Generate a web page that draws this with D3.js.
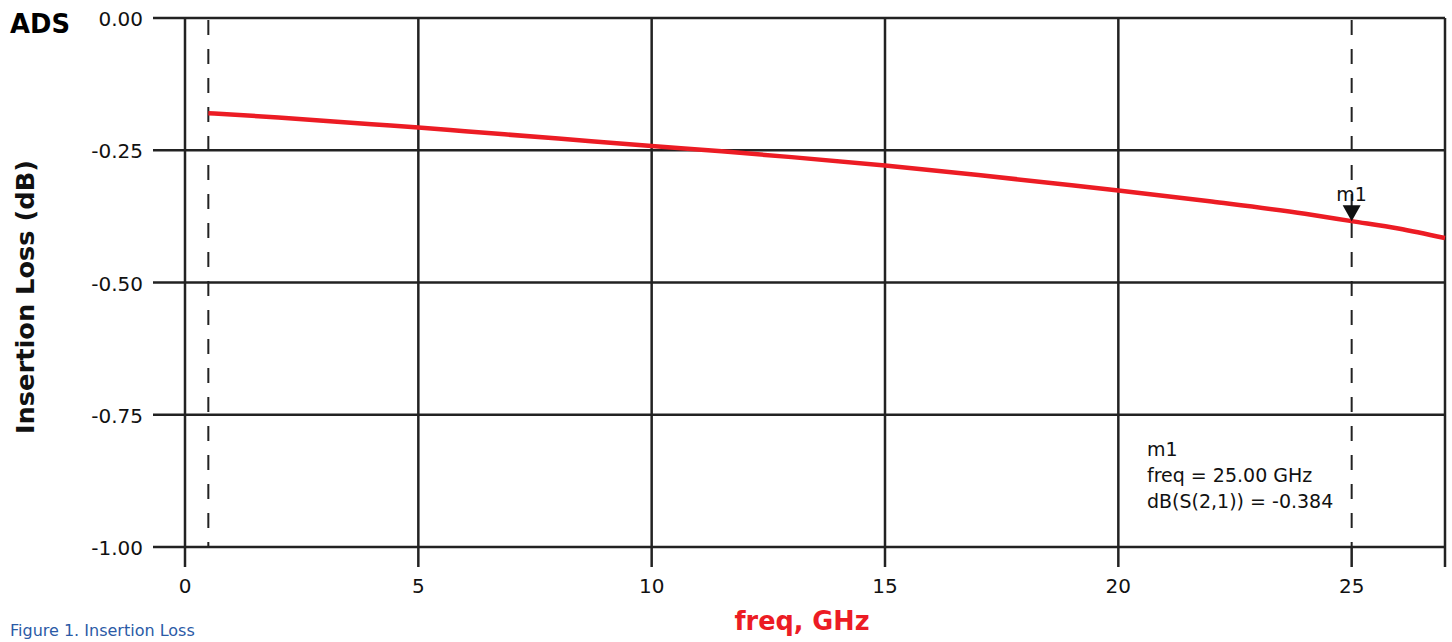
<!DOCTYPE html>
<html>
<head>
<meta charset="utf-8">
<script src="https://cdn.jsdelivr.net/npm/d3@7"></script>
<style>
  body { margin: 0; background: #fff; }
  svg { display: block; font-family: "DejaVu Sans", "Open Sans", sans-serif; }
</style>
</head>
<body>
<svg width="1452" height="642"></svg>
<script>
// insertion loss S21 curve
const freqGHz = [0.5, 2, 4, 5, 6, 8, 10, 11.5, 13, 15, 17, 19, 20, 22, 24, 25, 26, 27];
const lossDb  = [-0.180, -0.188, -0.201, -0.207, -0.214, -0.228, -0.242, -0.252, -0.263, -0.279, -0.297, -0.316, -0.326, -0.347, -0.370, -0.384, -0.398, -0.416];
const xTicks = [0, 5, 10, 15, 20, 25];
const yTicks = [0, -0.25, -0.5, -0.75, -1];
const markerFreqs = [0.5, 25];
const markerName = "m1";
const markerValue = -0.384;
const readout = ["m1", "freq = 25.00 GHz", "dB(S(2,1)) = -0.384"];

const svg = d3.select("svg");
const pLeft = 185, pRight = 1445, pTop = 18, pBottom = 547;
const ink = "#222";

const x = d3.scaleLinear([0, 27], [pLeft, pRight]);
const y = d3.scaleLinear([-1, 0], [pBottom, pTop]);

// horizontal grid lines (run out past the left edge as ticks)
svg.append("g")
  .selectAll("line")
  .data(yTicks)
  .join("line")
  .attr("x1", pLeft - 32).attr("x2", pRight)
  .attr("y1", d => y(d)).attr("y2", d => y(d))
  .attr("stroke", ink).attr("stroke-width", 2.5);

// vertical grid lines, except where a dashed marker line sits
svg.append("g")
  .selectAll("line")
  .data(xTicks.filter(d => !markerFreqs.includes(d)))
  .join("line")
  .attr("x1", d => x(d)).attr("x2", d => x(d))
  .attr("y1", pTop).attr("y2", pBottom)
  .attr("stroke", ink).attr("stroke-width", 2.5);

// tick marks below the bottom edge
svg.append("g")
  .selectAll("line")
  .data(xTicks)
  .join("line")
  .attr("x1", d => x(d)).attr("x2", d => x(d))
  .attr("y1", pBottom).attr("y2", pBottom + 20)
  .attr("stroke", ink).attr("stroke-width", 2.5);

// right border
svg.append("line")
  .attr("x1", pRight).attr("x2", pRight)
  .attr("y1", pTop).attr("y2", pBottom + 20)
  .attr("stroke", ink).attr("stroke-width", 2.5);

// tick labels
svg.append("g")
  .selectAll("text")
  .data(yTicks)
  .join("text")
  .attr("x", pLeft - 42).attr("y", d => y(d) + 8)
  .attr("text-anchor", "end")
  .attr("font-size", 20)
  .attr("fill", "#111")
  .text(d => d3.format(".2f")(d).replace("\u2212", "-"));

svg.append("g")
  .selectAll("text")
  .data(xTicks)
  .join("text")
  .attr("x", d => x(d)).attr("y", 593)
  .attr("text-anchor", "middle")
  .attr("font-size", 20)
  .attr("fill", "#111")
  .text(d => d);

// dashed marker lines
svg.append("g")
  .selectAll("line")
  .data(markerFreqs)
  .join("line")
  .attr("x1", d => x(d)).attr("x2", d => x(d))
  .attr("y1", pTop + 2).attr("y2", pBottom)
  .attr("stroke", ink).attr("stroke-width", 2)
  .attr("stroke-dasharray", "15,14");

// curve
const line = d3.line(d => x(d[0]), d => y(d[1])).curve(d3.curveMonotoneX);
svg.append("path")
  .datum(d3.zip(freqGHz, lossDb))
  .attr("d", line)
  .attr("fill", "none")
  .attr("stroke", "#ec1c24")
  .attr("stroke-width", 4.5);

// marker triangle + label
const mx = x(25), my = y(markerValue);
svg.append("path")
  .attr("d", `M${mx - 9},${my - 16}L${mx + 9},${my - 16}L${mx},${my}Z`)
  .attr("fill", "#111");
svg.append("text")
  .attr("x", mx).attr("y", my - 20)
  .attr("text-anchor", "middle")
  .attr("font-size", 19)
  .attr("fill", "#111")
  .text(markerName);

// readout box text
svg.append("g")
  .selectAll("text")
  .data(readout)
  .join("text")
  .attr("x", 1147)
  .attr("y", (d, i) => 456 + i * 26)
  .attr("font-size", 19)
  .attr("fill", "#111")
  .text(d => d);

// titles
svg.append("text")
  .attr("x", 10).attr("y", 33)
  .attr("font-size", 27).attr("font-weight", "bold")
  .attr("textLength", 60).attr("lengthAdjust", "spacingAndGlyphs")
  .attr("fill", "#000")
  .text("ADS");

svg.append("text")
  .attr("transform", "translate(34,297) rotate(-90)")
  .attr("text-anchor", "middle")
  .attr("font-size", 25).attr("font-weight", "bold")
  .attr("textLength", 274).attr("lengthAdjust", "spacingAndGlyphs")
  .attr("fill", "#111")
  .text("Insertion Loss (dB)");

svg.append("text")
  .attr("x", 802).attr("y", 630)
  .attr("text-anchor", "middle")
  .attr("font-size", 27).attr("font-weight", "bold")
  .attr("textLength", 135).attr("lengthAdjust", "spacingAndGlyphs")
  .attr("fill", "#ec1c24")
  .text("freq, GHz");

svg.append("text")
  .attr("x", 10).attr("y", 636)
  .attr("font-size", 16)
  .attr("fill", "#2b5aa6")
  .text("Figure 1. Insertion Loss");
</script>
</body>
</html>
